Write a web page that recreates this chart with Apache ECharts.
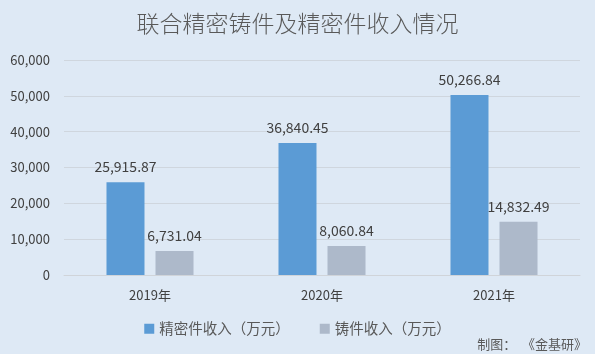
<!DOCTYPE html>
<html>
<head>
<meta charset="utf-8">
<script src="https://cdn.jsdelivr.net/npm/echarts@6/dist/echarts.min.js"></script>
<style>
  html, body { margin: 0; padding: 0; background: #dee9f5; }
  #chart { width: 595px; height: 354px; }
</style>
</head>
<body>
<div id="chart"></div>
<script>
const years = ['2019年', '2020年', '2021年']
const precisionIncome = [25915.87, 36840.45, 50266.84]
const castingIncome = [6731.04, 8060.84, 14832.49]
const yTicks = [0, 10000, 20000, 30000, 40000, 50000, 60000]

const fmt = v => v.toLocaleString('en-US', { minimumFractionDigits: 2, maximumFractionDigits: 2 })
const font = '"Noto Sans CJK SC", "Noto Sans", sans-serif'

const myChart = echarts.init(document.getElementById('chart'))
myChart.setOption({
  backgroundColor: '#dee9f5',
  textStyle: { fontFamily: font },
  title: {
    text: '联合精密铸件及精密件收入情况',
    left: 'center',
    top: 7,
    textStyle: { color: '#595959', fontSize: 23, fontWeight: 300, fontFamily: font }
  },
  legend: {
    bottom: 13,
    left: 'center',
    itemWidth: 10,
    itemHeight: 10,
    itemGap: 30,
    icon: 'rect',
    textStyle: { color: '#595959', fontSize: 14.5, fontFamily: font },
    data: ['精密件收入（万元）', '铸件收入（万元）']
  },
  graphic: [{
    type: 'text',
    right: 8,
    bottom: 3,
    style: { text: '制图：  《金基研》', fill: '#595959', font: '13px ' + font }
  }],
  grid: {
    top: 60,
    left: 64,
    right: 15,
    bottom: 79
  },
  xAxis: {
    type: 'category',
    data: years,
    axisLine: { lineStyle: { color: '#d0d4d9' } },
    axisTick: { show: false },
    axisLabel: { color: '#404040', fontSize: 13, margin: 14 }
  },
  yAxis: {
    type: 'value',
    min: yTicks[0],
    max: yTicks[yTicks.length - 1],
    interval: 10000,
    axisLine: { show: false },
    axisTick: { show: false },
    splitLine: { lineStyle: { color: '#cfd6de' } },
    axisLabel: {
      color: '#404040',
      fontSize: 13,
      margin: 14,
      formatter: v => v.toLocaleString('en-US')
    }
  },
  series: [{
    name: '精密件收入（万元）',
    type: 'bar',
    barWidth: 38,
    barGap: '29%',
    itemStyle: { color: '#5b9bd5' },
    label: {
      show: true,
      position: 'top',
      distance: 8,
      color: '#404040',
      fontSize: 14,
      formatter: p => fmt(p.value)
    },
    data: precisionIncome
  }, {
    name: '铸件收入（万元）',
    type: 'bar',
    barWidth: 38,
    itemStyle: { color: '#adb9ca' },
    label: {
      show: true,
      position: 'top',
      distance: 8,
      color: '#404040',
      fontSize: 14,
      formatter: p => fmt(p.value)
    },
    data: castingIncome
  }]
})
</script>
</body>
</html>
